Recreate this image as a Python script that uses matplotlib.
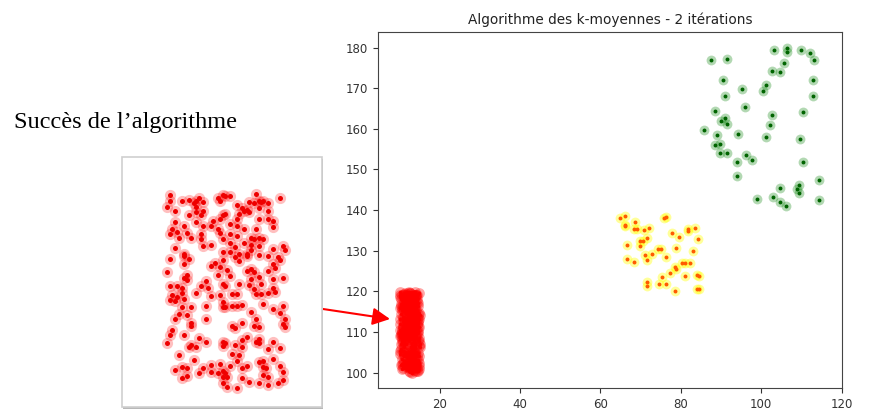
import matplotlib
matplotlib.use("Agg")
import matplotlib.pyplot as plt
from matplotlib.patches import Rectangle

# cluster 1 (red)
red_x = [10.2, 10.2, 10.1, 10.4, 10.7, 11.0, 11.2, 11.3, 11.4, 11.6, 11.3, 11.6, 11.0, 11.3, 11.5, 12.2, 12.3, 12.4,
         11.3, 11.6, 11.9, 12.0, 12.3, 12.4, 10.4, 10.3, 10.5, 10.8, 10.9, 11.1, 11.5, 11.5, 12.2, 12.3, 12.4, 11.9,
         10.2, 10.6, 10.4, 10.8, 11.6, 12.4,
         12.5, 12.7, 13.8, 14.8, 13.0, 13.2, 13.5, 13.7, 13.9, 14.0, 14.1, 14.3, 13.9, 13.4, 13.3, 13.5, 13.1, 12.5,
         13.0, 13.9, 14.3, 14.3, 14.5, 14.5, 12.7, 13.0, 13.3, 13.8, 12.7, 13.0, 13.6, 13.7, 13.9, 14.1, 13.6, 13.9,
         12.7, 12.9, 13.3, 14.5, 14.9, 15.0, 13.6, 12.7, 13.1, 13.4,
         10.2, 10.8, 11.0, 10.8, 10.1, 10.8, 10.9, 10.9, 10.2, 10.5, 10.7, 11.5, 11.7, 11.8, 11.3, 10.3, 10.5, 10.7,
         10.8, 10.2, 10.4, 11.9, 12.3, 11.9, 12.1, 12.3, 12.4, 12.2, 12.4, 12.4, 12.4, 11.7, 11.1, 10.7, 10.6, 10.9,
         10.4, 11.7, 11.1,
         12.9, 13.1, 13.4, 13.9, 14.3, 14.7, 14.8, 14.5, 14.6, 14.3, 13.6, 13.4, 13.7, 12.6, 12.7, 13.6, 13.9, 14.0,
         14.5, 14.9, 13.1, 13.5, 13.7, 13.8, 14.0, 14.3, 14.5, 14.6, 12.5, 12.8, 13.0, 14.1, 12.8, 13.0, 13.2, 12.5,
         14.5, 14.9, 14.8, 13.6, 13.8, 15.0, 13.2,
         10.3, 10.2, 11.1, 10.8, 10.1, 11.0, 11.1, 11.3, 11.4, 11.7, 12.4, 12.4, 10.6, 11.2, 11.9, 12.3, 10.4, 10.7,
         10.9, 11.6, 11.9, 11.4, 10.9, 10.7, 12.2, 12.4, 12.4, 12.4,
         12.8, 12.9, 13.7, 13.9, 14.9, 15.0, 12.5, 12.9, 13.2, 13.4, 13.2, 13.8, 13.9, 13.9, 14.3, 14.5, 14.8, 12.8,
         13.1, 13.0, 12.7, 13.2, 13.4, 13.9, 14.1, 14.5, 14.1, 14.2, 14.8, 14.9, 14.1, 14.3, 12.5, 12.6, 13.2, 13.5,
         13.9, 14.3, 14.7, 14.9, 12.6, 13.0]
red_y = [119.8, 119.2, 118.6, 118.2, 119.2, 119.3, 119.0, 119.2, 119.5, 119.1, 118.6, 118.2, 117.7, 118.0, 117.7,
         119.5, 119.2, 119.8, 117.0, 116.6, 116.6, 117.1, 117.3, 117.7, 117.0, 116.3, 116.0, 116.6, 115.9, 115.4,
         115.8, 115.3, 116.3, 115.9, 115.3, 114.7, 115.8, 115.4, 114.4, 113.7, 114.6, 113.9,
         119.7, 119.7, 119.9, 119.5, 118.8, 118.5, 119.1, 119.0, 119.2, 119.1, 119.2, 119.0, 118.5, 118.3, 118.1,
         118.0, 117.8, 117.8, 117.3, 117.3, 118.1, 117.3, 117.1, 116.5, 116.8, 116.6, 116.3, 116.3, 115.8, 115.6,
         115.4, 115.3, 115.4, 115.3, 114.7, 114.6, 114.9, 114.5, 114.9, 114.3, 114.6, 114.1, 114.1, 113.9, 113.7,
         113.7,
         113.2, 113.5, 113.2, 112.7, 111.9, 111.3, 111.6, 111.1, 110.5, 110.5, 110.3, 110.5, 111.0, 110.3, 109.7,
         109.5, 109.3, 109.7, 109.1, 109.0, 108.9, 109.4, 109.5, 112.5, 112.8, 112.4, 113.1, 111.6, 110.7, 108.8,
         108.3, 108.4, 108.3, 108.3, 107.6, 107.5, 107.1, 107.1, 106.7,
         113.4, 113.0, 113.5, 113.6, 113.5, 113.4, 113.1, 112.7, 112.3, 112.0, 112.2, 112.0, 111.9, 112.1, 111.5,
         111.2, 111.4, 110.7, 111.2, 111.3, 110.7, 110.6, 110.2, 109.6, 109.6, 109.7, 110.3, 109.8, 110.5, 109.6,
         109.6, 108.6, 108.4, 108.4, 108.5, 108.3, 108.1, 108.4, 107.7, 107.8, 107.1, 107.1, 106.7,
         105.9, 105.4, 106.4, 105.4, 104.6, 104.2, 104.4, 104.2, 105.1, 104.7, 104.7, 104.3, 103.4, 102.9, 102.4,
         102.5, 101.8, 102.2, 102.0, 102.0, 101.6, 101.5, 101.2, 101.0, 101.5, 101.1, 101.7, 100.5,
         106.4, 106.2, 106.4, 106.3, 106.6, 106.3, 104.6, 104.4, 104.9, 105.2, 104.2, 104.7, 105.0, 104.6, 104.0,
         104.7, 104.1, 103.5, 103.4, 102.8, 102.3, 102.1, 102.3, 102.7, 102.8, 103.0, 102.2, 102.0, 102.3, 101.6,
         101.3, 101.1, 101.5, 101.1, 101.0, 100.6, 100.5, 100.3, 100.5, 100.8, 100.1, 100.0]

# cluster 2 (orange)
orange_x = [64.8, 66.2, 66.0, 66.1, 68.5, 68.3, 69.1, 72.0, 70.8, 70.6, 69.8, 71.5, 66.7, 69.8, 74.2, 75.0, 76.3,
            66.7, 68.3, 71.2, 71.5, 72.9, 77.7, 79.6, 76.3, 75.9, 81.7, 81.7, 83.5, 84.3, 78.8, 83.1, 78.5, 78.9,
            77.3, 80.3, 81.1, 82.2, 75.4, 81.0, 83.9, 84.6, 71.7, 71.7, 74.5, 76.3, 78.5, 84.1, 84.6]
orange_y = [138.0, 138.5, 136.4, 136.0, 137.0, 135.4, 135.4, 135.7, 135.2, 132.4, 132.4, 133.1, 131.4, 131.2,
            130.5, 130.5, 128.5, 128.0, 127.3, 128.9, 127.7, 129.3, 134.3, 133.3, 138.2, 138.0, 135.4, 134.9,
            135.6, 133.0, 130.6, 130.0, 126.0, 125.5, 124.6, 127.1, 127.1, 127.0, 123.6, 123.8, 124.1, 123.7,
            122.3, 121.3, 121.9, 121.7, 120.2, 120.5, 120.5]

# cluster 3 (green)
green_x = [87.5, 91.5, 103.2, 106.3, 106.4, 109.8, 112.1, 113.1, 105.6, 102.7, 104.6, 90.5, 113.0, 101.2, 100.4,
           95.2, 91.1, 112.9, 95.9, 88.6, 110.3, 102.7, 89.9, 91.0, 91.4, 102.2, 85.7, 88.9, 94.2, 101.1, 109.7,
           88.6, 89.8, 89.7, 91.5, 96.3, 97.8, 93.9, 110.4, 93.9, 114.4, 104.6, 109.5, 108.9, 109.5, 98.9, 103.0,
           104.6, 106.1, 114.5]
green_y = [177.0, 177.3, 179.4, 180.0, 178.8, 179.3, 178.7, 176.9, 176.1, 174.3, 174.1, 172.0, 172.0, 170.7,
           169.2, 169.8, 168.0, 168.2, 165.5, 164.5, 164.2, 163.4, 162.0, 162.6, 161.2, 161.0, 159.8, 158.6, 158.8,
           158.1, 157.6, 156.1, 156.2, 154.1, 154.1, 153.6, 152.4, 151.9, 151.9, 148.3, 147.5, 145.5, 146.2, 145.3,
           144.3, 142.8, 143.3, 142.1, 141.0, 142.6]

fig = plt.figure(figsize=(8.7, 4.09), dpi=100)

# main k-means plot
ax = fig.add_axes([0.4345, 0.0513, 0.5333, 0.870])
ax.scatter(red_x, red_y, s=60, color='red', alpha=0.35, linewidths=0)
ax.scatter(red_x, red_y, s=6, color='red', linewidths=0)
ax.scatter(orange_x, orange_y, s=50, color='yellow', alpha=0.4, linewidths=0)
ax.scatter(orange_x, orange_y, s=8, color='#ff5a00', linewidths=0)
ax.scatter(green_x, green_y, s=50, color='green', alpha=0.3, linewidths=0)
ax.scatter(green_x, green_y, s=8, color='darkgreen', linewidths=0)
ax.set_xlim(4.65, 120.1)
ax.set_ylim(96.2, 183.8)
ax.set_xticks([20, 40, 60, 80, 100, 120])
ax.set_yticks([100, 110, 120, 130, 140, 150, 160, 170, 180])
ax.tick_params(labelsize=8.5, colors='#333333')
for sp in ax.spines.values():
    sp.set_color('#444444')
ax.set_title("Algorithme des k-moyennes - 2 itérations", fontsize=9.8, color='#222222', pad=6)

# slide text
fig.text(0.016, 0.687, "Succès de l’algorithme", family='Liberation Serif', fontsize=17.5, color='black')

# inset: zoom on the red cluster, with a framed picture look
fig.patches.append(Rectangle((123.5 / 870, 1 - 409 / 409), 200 / 870, 250 / 409, transform=fig.transFigure,
                             facecolor='#b8b8b8', edgecolor='none', zorder=0))
fig.patches.append(Rectangle((121.7 / 870, 1 - 406.7 / 409), 200 / 870, 250 / 409, transform=fig.transFigure,
                             facecolor='white', edgecolor='#cfcfcf', lw=1.2, zorder=1))
ax_in = fig.add_axes([121.7 / 870, 1 - 406.7 / 409, 200 / 870, 250 / 409])
ax_in.set_zorder(3)
ax_in.scatter(red_x, red_y, s=65, color='red', alpha=0.25, linewidths=0)
ax_in.scatter(red_x, red_y, s=13, color='#ee0000', linewidths=0)
ax_in.set_xlim(8.2, 16.53)
ax_in.set_ylim(98.08, 123.72)
ax_in.axis('off')

# arrow from the inset to the red cluster
ax.annotate("", xy=(0.4483, 0.22), xycoords='figure fraction',
            xytext=(0.3483, 0.2518), textcoords='figure fraction',
            arrowprops=dict(arrowstyle='-|>,head_length=0.7,head_width=0.35', color='red',
                            lw=1.5, mutation_scale=15, shrinkA=0, shrinkB=0),
            annotation_clip=False)

fig.savefig('out.png', dpi=100)
